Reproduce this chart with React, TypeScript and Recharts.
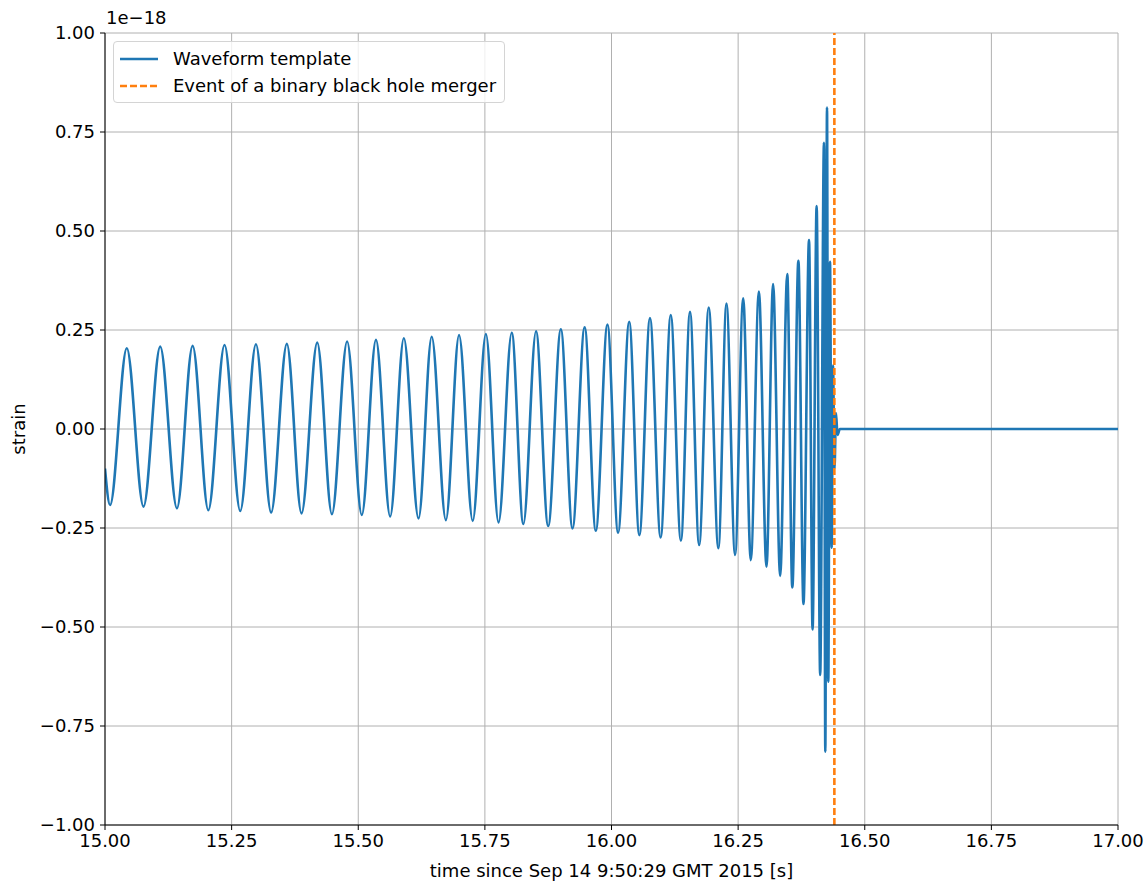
import { LineChart, Line, XAxis, YAxis, CartesianGrid, Legend, Label } from "recharts"

// waveform template: extrema of each half cycle (strain in units of 1e-18)
const waveTime = [
  15.0, 15.01, 15.043, 15.076, 15.109, 15.142, 15.173, 15.204, 15.236, 15.267,
  15.298, 15.328, 15.359, 15.388, 15.419, 15.448, 15.478, 15.507, 15.535, 15.563,
  15.59, 15.619, 15.645, 15.673, 15.699, 15.726, 15.752, 15.777, 15.803, 15.826,
  15.851, 15.875, 15.9, 15.923, 15.947, 15.969, 15.992, 16.013, 16.035, 16.055,
  16.076, 16.097, 16.117, 16.137, 16.155, 16.173, 16.192, 16.211, 16.227, 16.244,
  16.26, 16.275, 16.291, 16.306, 16.319, 16.333, 16.347, 16.357, 16.369, 16.379,
  16.39, 16.397, 16.405, 16.412, 16.4195, 16.4221, 16.4255, 16.428, 16.4314, 16.4347,
  16.4373, 16.4403, 16.4432, 16.4462, 16.451, 17.0,
]
const waveStrain = [
  -0.1, -0.192, 0.204, -0.196, 0.208, -0.2, 0.21, -0.205, 0.212, -0.207,
  0.214, -0.211, 0.215, -0.213, 0.218, -0.215, 0.221, -0.217, 0.225, -0.221,
  0.229, -0.226, 0.233, -0.23, 0.237, -0.232, 0.24, -0.236, 0.243, -0.24,
  0.247, -0.245, 0.252, -0.251, 0.257, -0.257, 0.264, -0.262, 0.271, -0.268,
  0.28, -0.274, 0.288, -0.282, 0.296, -0.293, 0.307, -0.301, 0.317, -0.318,
  0.33, -0.331, 0.347, -0.348, 0.366, -0.371, 0.391, -0.4, 0.425, -0.442,
  0.477, -0.506, 0.563, -0.621, 0.723, -0.815, 0.812, -0.638, 0.422, -0.3,
  0.16, -0.1, 0.04, -0.015, 0, 0,
]

// merger event marker
const eventTime = [16.44, 16.44]
const eventStrain = [-1, 1]

const xTicks = [15, 15.25, 15.5, 15.75, 16, 16.25, 16.5, 16.75, 17]
const yTicks = [-1, -0.75, -0.5, -0.25, 0, 0.25, 0.5, 0.75, 1]
const seriesNames = ["Waveform template", "Event of a binary black hole merger"]

const BLUE = "#1f77b4"
const ORANGE = "#ff7f0e"
const FONT = "'DejaVu Sans', sans-serif"
const FS = 18

const waveData = waveTime.map((t, i) => ({ t, strain: waveStrain[i] }))
const eventData = eventTime.map((t, i) => ({ t, strain: eventStrain[i] }))

const fmt = (v: number) => v.toFixed(2).replace("-", "\u2212")

function LegendBox() {
  return (
    <div
      style={{
        border: "1px solid #d4d4d4",
        borderRadius: 4,
        background: "rgba(255,255,255,0.8)",
        padding: "3px 8px 3px 6px",
        fontFamily: FONT,
        fontSize: FS,
        color: "#000",
      }}
    >
      {seriesNames.map((name, i) => (
        <div key={name} style={{ display: "flex", alignItems: "center", height: 27 }}>
          <svg width={38} height={6} style={{ marginRight: 15 }}>
            <line
              x1={0}
              y1={3}
              x2={38}
              y2={3}
              stroke={i === 0 ? BLUE : ORANGE}
              strokeWidth={2.6}
              strokeDasharray={i === 0 ? undefined : "7 3"}
            />
          </svg>
          <span>{name}</span>
        </div>
      ))}
    </div>
  )
}

export default function App() {
  return (
    <div style={{ position: "absolute", left: 0, top: 0, width: 1146, height: 881, background: "#fff", fontFamily: FONT }}>
      <LineChart
        width={1146}
        height={881}
        margin={{ top: 33, right: 28, bottom: 0, left: 0 }}
        style={{ fontFamily: FONT }}
      >
        <CartesianGrid stroke="#b0b0b0" strokeWidth={1} />

        <XAxis
          dataKey="t"
          type="number"
          domain={[15, 17]}
          ticks={xTicks}
          tickFormatter={fmt}
          allowDataOverflow
          height={56}
          tickSize={5}
          tickMargin={4}
          stroke="#000"
          tick={{ fill: "#000", fontSize: FS }}
        >
          <Label
            value="time since Sep 14 9:50:29 GMT 2015 [s]"
            position="insideBottom"
            offset={4}
            style={{ fill: "#000", fontSize: FS }}
          />
        </XAxis>
        <XAxis xAxisId="top" orientation="top" type="number" domain={[15, 17]} height={0} tick={false} tickLine={false} stroke="#000" />

        <YAxis
          type="number"
          domain={[-1, 1]}
          ticks={yTicks}
          tickFormatter={fmt}
          allowDataOverflow
          width={105}
          tickSize={5}
          tickMargin={5}
          stroke="#000"
          tick={{ fill: "#000", fontSize: FS }}
        >
          <Label
            content={({ viewBox }: any) => {
              const cx = viewBox.x + 25
              const cy = viewBox.y + viewBox.height / 2
              return (
                <text x={cx} y={cy} transform={`rotate(-90 ${cx} ${cy})`} textAnchor="middle" fontSize={FS} fill="#000">
                  strain
                </text>
              )
            }}
          />
          <Label
            content={({ viewBox }: any) => (
              <text x={viewBox.x + viewBox.width + 1} y={viewBox.y - 9} fontSize={FS} fill="#000">
                1e{"\u2212"}18
              </text>
            )}
          />
        </YAxis>
        <YAxis yAxisId="right" orientation="right" type="number" domain={[-1, 1]} width={0} tick={false} tickLine={false} stroke="#000" />

        <Legend
          layout="vertical"
          align="center"
          verticalAlign="middle"
          content={() => <LegendBox />}
          wrapperStyle={{ left: 113, top: 41, width: "auto", height: "auto" }}
        />

        <Line
          data={waveData}
          dataKey="strain"
          name={seriesNames[0]}
          type="monotoneX"
          stroke={BLUE}
          strokeWidth={2.6}
          dot={false}
          activeDot={false}
          isAnimationActive={false}
        />
        <Line
          data={eventData}
          dataKey="strain"
          name={seriesNames[1]}
          type="linear"
          stroke={ORANGE}
          strokeWidth={2.6}
          strokeDasharray="7 3"
          dot={false}
          activeDot={false}
          isAnimationActive={false}
        />
      </LineChart>
    </div>
  )
}
